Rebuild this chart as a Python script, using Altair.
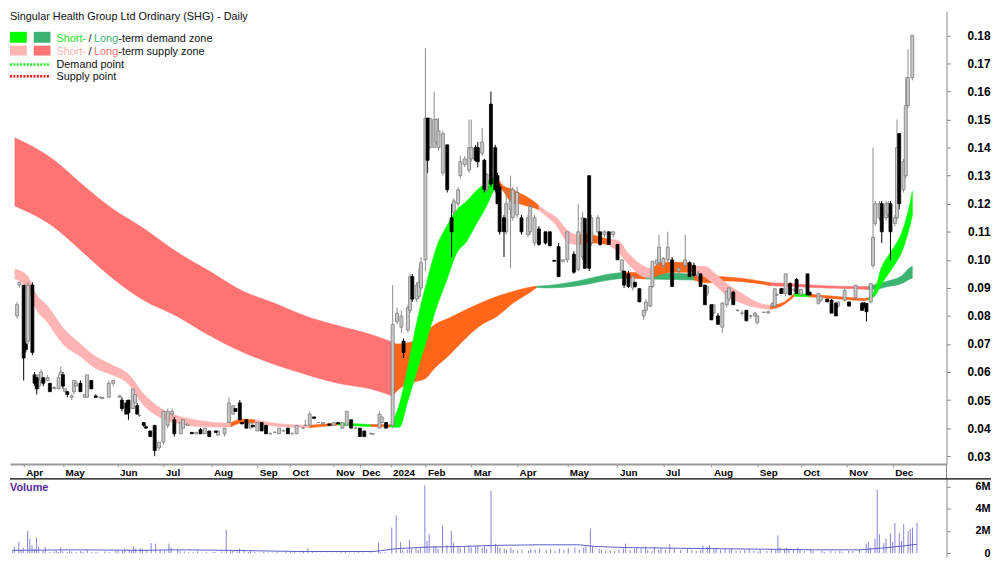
import altair as alt
import pandas as pd

FONT = "Liberation Sans, Arial, sans-serif"

# ---------------- price candles (trading-day index) ----------------
DAY = [1, 2, 4, 5, 6, 8, 9, 10, 11, 12,
       13, 15, 16, 18, 20, 21, 22, 23, 24, 26,
       27, 28, 30, 32, 33, 35, 37, 39, 40, 43,
       45, 48, 49, 51, 52, 54, 55, 56, 57, 59,
       60, 62, 64, 66, 68, 70, 72, 73, 76, 77,
       79, 81, 83, 85, 87, 89, 92, 93, 96, 98,
       100, 101, 103, 104, 106, 108, 109, 111, 113, 115,
       117, 119, 121, 123, 125, 127, 129, 132, 133, 135,
       137, 139, 141, 144, 146, 148, 150, 152, 154, 156,
       158, 160, 163, 164, 167, 168, 170, 173, 175, 177,
       178, 180, 181, 182, 184, 185, 186, 188, 189, 190,
       192, 193, 194, 196, 198, 200, 201, 203, 204, 206,
       208, 209, 211, 212, 214, 215, 216, 218, 220, 221,
       222, 224, 225, 227, 228, 230, 232, 235, 236, 238,
       240, 243, 245, 247, 249, 251, 253, 256, 258, 260,
       261, 263, 264, 267, 268, 270, 272, 274, 276, 278,
       279, 281, 283, 284, 286, 288, 289, 291, 292, 294,
       295, 297, 299, 301, 304, 307, 309, 311, 313, 314,
       316, 317, 319, 320, 322, 324, 326, 327, 329, 331,
       333, 335, 337, 339, 340, 343, 345, 347, 348, 349,
       351, 352, 353, 355, 357, 358, 360, 363, 364, 368,
       369, 372, 374, 376, 377, 380, 382, 385, 388, 389,
       390, 392, 393, 394, 396, 397, 399, 400, 401, 403,
       404, 405, 407, 408, 409, 411]

OPEN = [.080, .091, .091, .070, .071, .091, .059, .058, .055, .057,
        .058, .057, .056, .054, .054, .059, .059, .053, .053, .051,
        .053, .055, .056, .051, .051, .057, .0515, .051, .0505, .051,
        .056, .051, .050, .049, .050, .047, .049, .048, .0445, .042,
        .0405, .039, .041, .033, .035, .041, .045, .043, .038, .040,
        .041, .0385, .038, .0395, .038, .039, .039, .0375, .038, .042,
        .045, .047, .049, .042, .043, .040, .041, .039, .042, .041,
        .038, .0385, .038, .039, .040, .038, .038, .040, .041, .041,
        .044, .042, .0415, .0415, .041, .042, .040, .041, .043, .040,
        .040, .039, .038, .038, .040, .042, .042, .041, .078, .076,
        .071, .075, .082, .094, .086, .087, .090, .100, .1505, .140,
        .140, .142, .140, .131, .141, .115, .117, .120, .130, .134,
        .132, .136, .140, .140, .138, .1355, .125, .1555, .140, .130,
        .126, .115, .110, .118, .115, .116, .115, .109, .110, .106,
        .111, .110, .110, .0998, .1047, .0995, .100, .102, .0965, .101,
        .1147, .130, .106, .110, .110, .109, .110, .109, .1055, .096,
        .096, .095, .090, .092, .0897, .080, .082, .0835, .0905, .0985,
        .099, .098, .100, .100, .096, .098, .099, .098, .094, .095,
        .091, .088, .084, .081, .080, .076, .084, .086, .0885, .082,
        .081, .082, .080, .080, .0776, .0813, .081, .0835, .0835, .0875,
        .0897, .0885, .088, .0915, .089, .093, .0875, .095, .0885, .0845,
        .0855, .086, .0856, .0845, .0835, .0856, .085, .0865, .0845, .0845,
        .0845, .085, .098, .113, .115, .120, .115, .116, .120, .113,
        .115, .145, .125, .130, .155, .165]

HIGH = [.085, .092, .091, .071, .092, .092, .060, .058, .059, .061,
        .058, .059, .056, .055, .059, .062, .060, .054, .053, .052,
        .057, .057, .057, .052, .059, .057, .052, .051, .051, .057,
        .057, .052, .051, .050, .050, .054, .052, .049, .045, .042,
        .041, .039, .041, .035, .046, .047, .047, .044, .042, .043,
        .0415, .0385, .0385, .040, .040, .039, .039, .039, .040, .051,
        .048, .047, .050, .042, .043, .042, .041, .042, .042, .041,
        .0385, .039, .040, .0395, .040, .0385, .041, .0405, .043, .046,
        .044, .042, .042, .0415, .042, .042, .042, .046, .043, .0405,
        .040, .039, .0385, .038, .046, .044, .042, .091, .083, .082,
        .072, .084, .095, .095, .092, .097, .101, .1755, .1505, .1505,
        .160, .1505, .1505, .146, .141, .120, .122, .126, .137, .137,
        .150, .150, .141, .142, .147, .136, .131, .160, .141, .131,
        .127, .116, .125, .130, .126, .126, .116, .116, .120, .116,
        .112, .110, .110, .100, .106, .100, .110, .103, .120, .117,
        .115, .130, .116, .116, .110, .1105, .110, .110, .1055, .100,
        .096, .096, .094, .092, .090, .082, .086, .0905, .0995, .100,
        .109, .101, .110, .101, .098, .109, .0995, .099, .096, .095,
        .091, .0905, .084, .084, .081, .085, .089, .090, .089, .0825,
        .082, .082, .0805, .0815, .080, .0815, .082, .085, .0897, .088,
        .090, .090, .095, .092, .090, .0935, .0895, .095, .0885, .088,
        .087, .086, .086, .085, .085, .090, .085, .091, .085, .085,
        .0845, .0915, .140, .121, .121, .121, .121, .121, .121, .116,
        .150, .145, .136, .165, .175, .180]

LOW = [.079, .090, .057, .067, .070, .066, .055, .052, .054, .056,
       .055, .057, .053, .054, .054, .059, .054, .053, .051, .050,
       .052, .055, .053, .051, .051, .054, .051, .0505, .0505, .051,
       .055, .051, .046, .045, .043, .047, .049, .045, .044, .0405,
       .040, .037, .030, .032, .034, .040, .044, .037, .038, .040,
       .041, .038, .038, .038, .038, .037, .0385, .0375, .037, .042,
       .045, .046, .043, .0415, .040, .040, .0405, .039, .039, .038,
       .038, .0385, .038, .039, .038, .038, .038, .040, .041, .041,
       .0435, .042, .0415, .041, .041, .0415, .040, .041, .040, .040,
       .037, .037, .038, .0375, .040, .042, .040, .040, .077, .074,
       .065, .074, .081, .085, .085, .086, .089, .096, .131, .1395,
       .140, .141, .139, .130, .124, .101, .116, .119, .129, .133,
       .131, .135, .135, .133, .137, .124, .124, .126, .124, .120,
       .109, .101, .109, .097, .114, .115, .109, .108, .109, .105,
       .105, .1055, .105, .0995, .094, .099, .099, .095, .096, .100,
       .097, .096, .105, .109, .105, .108, .1055, .108, .100, .095,
       .090, .090, .089, .090, .085, .0786, .081, .083, .090, .098,
       .098, .097, .099, .0905, .095, .097, .094, .094, .093, .0905,
       .084, .087, .0786, .080, .077, .074, .083, .085, .084, .0815,
       .080, .078, .079, .0795, .077, .081, .081, .083, .083, .087,
       .088, .088, .087, .0875, .0885, .088, .087, .0875, .0875, .084,
       .085, .085, .081, .080, .083, .085, .0835, .086, .082, .083,
       .078, .0845, .097, .112, .114, .106, .114, .115, .100, .112,
       .114, .118, .124, .129, .154, .164]

CLOSE = [.084, .092, .065, .068, .091, .067, .056, .054, .059, .060,
         .056, .058, .053, .0545, .058, .060, .055, .054, .052, .0515,
         .057, .056, .053, .052, .059, .054, .051, .051, .051, .056,
         .057, .0515, .047, .045, .0455, .054, .052, .045, .0445, .041,
         .040, .037, .032, .035, .046, .046, .046, .038, .042, .043,
         .0415, .038, .0385, .038, .040, .037, .0385, .039, .040, .049,
         .048, .046, .043, .0415, .040, .042, .0405, .042, .039, .038,
         .038, .0385, .040, .039, .038, .038, .041, .040, .041, .045,
         .0435, .042, .042, .041, .042, .0415, .042, .046, .040, .040,
         .037, .037, .038, .038, .045, .044, .040, .077, .081, .080,
         .067, .083, .094, .086, .091, .092, .099, .1505, .1355, .1505,
         .150, .150, .146, .145, .125, .110, .121, .125, .135, .136,
         .140, .140, .1355, .135, .142, .125, .1305, .127, .125, .120,
         .110, .110, .120, .121, .125, .124, .110, .115, .119, .115,
         .1055, .106, .105, .0995, .094, .100, .110, .0956, .110, .115,
         .097, .097, .115, .115, .1055, .110, .1055, .110, .100, .100,
         .091, .0905, .094, .0905, .085, .082, .085, .0905, .0995, .100,
         .1045, .1005, .1045, .0905, .097, .100, .094, .0945, .095, .0905,
         .084, .0905, .0786, .084, .077, .0845, .0887, .090, .084, .082,
         .081, .0783, .080, .081, .080, .0813, .0815, .0845, .0897, .0875,
         .088, .0895, .095, .0875, .0895, .088, .0895, .0875, .0875, .088,
         .087, .085, .081, .080, .085, .089, .0835, .091, .082, .083,
         .0815, .0915, .108, .120, .120, .110, .120, .120, .110, .115,
         .140, .120, .135, .155, .165, .180]

# volume, millions of shares
VOLUME_M = [.2, .6, 1.0, .3, .5, 2.0, 1.3, .7, .4, 1.4,
            .6, .2, .55, .1, .15, .2, .1, .5, .15, .1,
            .2, .15, .1, .2, .1, .3, .1, .1, .05, .15,
            .1, .2, .25, .2, .4, .3, .2, .6, .4, .45,
            .4, .3, .9, .85, .3, .2, .85, .5, .3, .2,
            .15, .1, .1, .15, .05, .1, .1, .1, .15, 2.1,
            .3, .2, .15, .4, .2, .1, .2, .1, .05, .1,
            .05, .05, .1, .05, .1, .1, .15, .05, .2, .45,
            .15, .05, .05, .05, .05, .05, .1, .2, .05, .05,
            .1, .05, .05, .05, .95, .1, .1, 2.3, 3.4, 1.0,
            .3, .3, 1.2, .4, .5, .3, .5, 6.1, 1.1, 1.7,
            .6, .65, .4, 2.5, .7, 2.0, .9, .6, .5, .6,
            .7, .5, .6, .7, .5, .6, .4, 5.6, .85, .6,
            .5, .4, .3, .5, .3, .2, .3, .2, .35, .3,
            .4, .3, .35, .2, .4, .3, .45, .5, .3, .5,
            .6, 2.2, .6, .4, .3, .2, .25, .2, .3, .4,
            .85, .3, .4, .5, .4, .6, .3, .2, .6, .3,
            .4, .3, .8, .4, .3, .4, .3, .2, .3, .7,
            .6, .7, .4, .5, .3, .4, .3, .4, .2, .2,
            .3, .4, .2, .15, .3, .2, .4, .3, 1.6, .5,
            .4, .5, .4, .3, .5, .3, .2, .3, .2, .2,
            .1, .2, .15, .2, .15, .2, .2, .3, .85, 1.0,
            .5, 1.3, 5.7, 1.7, .9, 1.3, 1.8, 1.0, 2.7, 1.8,
            1.1, 2.6, 2.0, 2.2, 2.3, 2.7]

# volume moving average
VOL_MA_DAY = [1, 30, 60, 75, 100, 130, 165, 175, 190, 205, 220, 240, 258,
              265, 280, 300, 320, 345, 365, 385, 395, 405, 411]
VOL_MA = [.25, .3, .25, .3, .25, .15, .15, .4, .55, .6, .7, .75, .75,
          .6, .5, .45, .4, .35, .3, .3, .45, .65, .8]

# ---------------- zones: (day, upper, lower) ----------------
LT_SUPPLY_A = [(0, .1435, .1192), (18, .1355, .1116), (30, .1274, .1035), (44, .1186, .0939),
               (59, .1112, .0856), (74, .1029, .0800), (89, .0960, .0731), (104, .0890, .0672),
               (119, .0845, .0627), (133, .0800, .0592), (148, .0765, .0560), (163, .0734, .0540),
               (173, .0706, .0515)]
LT_MIXED_A = [(173, .0706, .0515), (175, .0700, .0533), (184, .0713, .0567), (188, .0740, .0577),
              (192, .0768, .0612), (199, .0793, .0661), (206, .0820, .0717), (213, .0845, .0765),
              (221, .0870, .0800), (228, .0887, .0845), (237, .0904, .0890), (239, .0906, .0902)]
LT_DEMAND_A = [(239, .0906, .0902), (243, .0908, .0900), (258, .0925, .0908), (272, .0949, .0928),
               (279, .0956, .0935)]
LT_MIXED_B = [(279, .0956, .0935), (289, .0953, .0932)]
LT_DEMAND_B = [(289, .0953, .0932), (300, .0952, .0930), (311, .0949, .0928)]
LT_MIXED_C = [(311, .0949, .0928), (317, .0942, .0918), (326, .0939, .0925), (341, .0925, .0915),
              (346, .0918, .0908)]
LT_SUPPLY_B = [(346, .0918, .0908), (356, .0915, .0905), (370, .0908, .0900), (385, .0905, .0897),
               (391, .0905, .0894)]
LT_DEMAND_C = [(391, .0905, .0894), (394, .0912, .0895), (400, .0925, .0905), (406, .0942, .0915),
               (410, .0973, .0932), (411, .0977, .0935)]

ST_SUPPLY_A = [(0, .0967, .0932), (6, .0940, .0897), (9, .0887, .0835), (15, .0835, .0776),
               (22, .0758, .0700), (30, .0700, .0655), (37, .0655, .0613), (44, .0627, .0592),
               (52, .0592, .0557), (59, .0522, .0481), (67, .0470, .0436), (74, .0445, .0418),
               (81, .0432, .0408), (89, .0422, .0405), (96, .0418, .0404), (99, .0420, .0405)]
ST_MIXED_A = [(99, .0420, .0405), (104, .0432, .0418), (110, .0430, .0418)]
ST_SUPPLY_B = [(110, .0430, .0418), (122, .0415, .0405), (135, .0410, .0402)]
ST_MIXED_B = [(135, .0410, .0402), (148, .0418, .0411)]
ST_DEMAND_A = [(148, .0418, .0411), (163, .0413, .0406)]
ST_MIXED_C = [(163, .0413, .0406), (172, .0412, .0404)]
ST_DEMAND_B = [(172, .0412, .0404), (176, .0483, .0403), (180, .0620, .0498), (184, .0776, .0600),
               (189, .0932, .0724), (193, .1043, .0828), (198, .1123, .0932), (202, .1175, .1019),
               (207, .1210, .1067), (211, .1244, .1123), (216, .1276, .1192), (219, .1293, .1244),
               (221, .1290, .1279)]
ST_MIXED_D = [(221, .1290, .1279), (224, .1262, .1241), (228, .1251, .1203), (231, .1238, .1200),
              (234, .1227, .1193), (238, .1206, .1185), (240, .1193, .1178)]
ST_SUPPLY_C = [(240, .1193, .1178), (243, .1175, .1158), (248, .1151, .1123), (253, .1105, .1064),
               (258, .1088, .1053)]
ST_MIXED_E = [(258, .1088, .1053), (262, .1095, .1060), (265, .1088, .1060), (269, .1080, .1057),
              (272, .1073, .1053)]
ST_SUPPLY_D = [(272, .1073, .1053), (276, .1070, .1030), (281, .1022, .0984), (288, .0977, .0939),
               (292, .0967, .0935)]
ST_MIXED_F = [(292, .0967, .0935), (296, .0991, .0949), (302, .0991, .0956), (307, .0991, .0956),
              (311, .0977, .0956)]
ST_SUPPLY_E = [(311, .0977, .0956), (316, .0977, .0939), (320, .0956, .0915), (326, .0915, .0873),
               (333, .0880, .0845), (341, .0845, .0828), (346, .0838, .0824)]
ST_MIXED_G = [(346, .0838, .0824), (351, .0845, .0835), (357, .0880, .0870)]
ST_DEMAND_C = [(357, .0880, .0870), (364, .0877, .0868)]
ST_MIXED_H = [(364, .0877, .0868), (378, .0868, .0860), (389, .0862, .0855), (391, .0865, .0858)]
ST_DEMAND_D = [(391, .0865, .0858), (394, .0897, .0873), (397, .0975, .0915), (400, .1015, .0949),
               (403, .1050, .0984), (406, .1095, .1025), (409, .1170, .1095), (411, .1244, .1158)]

LT_ZONES = [("lt_supply", LT_SUPPLY_A), ("mixed", LT_MIXED_A), ("lt_demand", LT_DEMAND_A),
            ("mixed", LT_MIXED_B), ("lt_demand", LT_DEMAND_B), ("mixed", LT_MIXED_C),
            ("lt_supply", LT_SUPPLY_B), ("lt_demand", LT_DEMAND_C)]
ST_ZONES = [("st_supply", ST_SUPPLY_A), ("mixed", ST_MIXED_A), ("st_supply", ST_SUPPLY_B),
            ("mixed", ST_MIXED_B), ("st_demand", ST_DEMAND_A), ("mixed", ST_MIXED_C),
            ("st_demand", ST_DEMAND_B), ("mixed", ST_MIXED_D), ("st_supply", ST_SUPPLY_C),
            ("mixed", ST_MIXED_E), ("st_supply", ST_SUPPLY_D), ("mixed", ST_MIXED_F),
            ("st_supply", ST_SUPPLY_E), ("mixed", ST_MIXED_G), ("st_demand", ST_DEMAND_C),
            ("mixed", ST_MIXED_H), ("st_demand", ST_DEMAND_D)]

ZONE_NAMES = ["st_demand", "lt_demand", "st_supply", "lt_supply", "mixed"]
ZONE_COLORS = ["#00ff00", "#3cb371", "#ffb3b3", "#ff7373", "#ff661a"]

MONTH_DAYS = [4, 22, 47, 68, 90, 111, 126, 146, 158, 172, 188, 209, 230, 253, 276, 297, 319, 340, 360, 381, 402]
MONTH_NAMES = ["Apr", "May", "Jun", "Jul", "Aug", "Sep", "Oct", "Nov", "Dec", "2024", "Feb", "Mar",
               "Apr", "May", "Jun", "Jul", "Aug", "Sep", "Oct", "Nov", "Dec"]
PRICE_TICKS = [0.03, 0.04, 0.05, 0.06, 0.07, 0.08, 0.09, 0.10, 0.11, 0.12, 0.13, 0.14, 0.15, 0.16, 0.17, 0.18]
VOL_TICKS = [0, 2, 4, 6]

TITLE = "Singular Health Group Ltd Ordinary (SHG) - Daily"

# ---------------- frames ----------------
assert len(DAY) == len(OPEN) == len(HIGH) == len(LOW) == len(CLOSE) == len(VOLUME_M)
candles = pd.DataFrame({"day": DAY, "open": OPEN, "high": HIGH, "low": LOW, "close": CLOSE, "vol": VOLUME_M})
candles["dir"] = ["up" if c >= o else "down" for o, c in zip(OPEN, CLOSE)]
vol_ma = pd.DataFrame({"day": VOL_MA_DAY, "ma": VOL_MA})


def zone_frame(zones):
    rows = []
    for i, (zone, pts) in enumerate(zones):
        for d, t, b in pts:
            rows.append({"seg": i, "zone": zone, "day": d, "top": t, "bot": b})
    return pd.DataFrame(rows)


lt_df = zone_frame(LT_ZONES)
st_df = zone_frame(ST_ZONES)

W, H_PRICE, H_VOL = 947, 458, 79
X_DOMAIN = [0, 424.4]
xs = alt.Scale(domain=X_DOMAIN, nice=False, zero=False)
ys = alt.Scale(domain=[0.027222, 0.188681], nice=False, zero=False)
vs = alt.Scale(domain=[-0.343, 6.686], nice=False, zero=False)
zone_scale = alt.Scale(domain=ZONE_NAMES, range=ZONE_COLORS)

label_expr = ("[" + ",".join("'%s'" % n for n in MONTH_NAMES) + "][indexof(["
              + ",".join(str(d) for d in MONTH_DAYS) + "], datum.value)]")

x_axis = alt.Axis(values=MONTH_DAYS, labelExpr=label_expr, grid=False, title=None,
                  domainColor="#9a9a9a", domainWidth=2, tickColor="#9a9a9a", tickSize=3,
                  labelAlign="left", labelOffset=2, labelPadding=1, labelBaseline="top",
                  labelFont=FONT, labelFontSize=10, labelFontWeight="bold", labelColor="#000",
                  labelOverlap=False, labelFlush=False)
y_axis = alt.Axis(orient="right", values=PRICE_TICKS, format=".2f", grid=False, title=None,
                  domainColor="#8a8a8a", tickColor="#8a8a8a", tickSize=4,
                  labelAlign="right", labelPadding=40, labelBaseline="middle",
                  labelFont=FONT, labelFontSize=12, labelFontWeight="bold", labelColor="#000",
                  labelOverlap=False, labelFlush=False)
v_axis = alt.Axis(orient="right", values=VOL_TICKS, grid=False, title=None,
                  labelExpr="datum.value == 0 ? '0' : datum.value + 'M'",
                  domainColor="#8a8a8a", tickColor="#8a8a8a", tickSize=4,
                  labelAlign="right", labelPadding=40, labelBaseline="middle",
                  labelFont=FONT, labelFontSize=11, labelFontWeight="bold", labelColor="#000",
                  labelOverlap=False, labelFlush=False)

X = alt.X("day:Q", scale=xs, axis=x_axis)


def zone_layer(df):
    return alt.Chart(df).mark_area(interpolate="monotone", strokeWidth=0.6).encode(
        x=X,
        y=alt.Y("top:Q", scale=ys, axis=y_axis, stack=None),
        y2="bot:Q",
        fill=alt.Fill("zone:N", scale=zone_scale, legend=None),
        stroke=alt.Stroke("zone:N", scale=zone_scale, legend=None),
        detail="seg:N",
    )


def wick_layer(direction, color):
    return alt.Chart(candles).transform_filter(alt.datum.dir == direction).mark_rule(
        strokeWidth=1, color=color).encode(
        x=X, y=alt.Y("low:Q", scale=ys, axis=y_axis, stack=None), y2="high:Q")


def body_layer(direction, fill, stroke):
    return alt.Chart(candles).transform_filter(alt.datum.dir == direction).mark_bar(
        size=3, strokeWidth=0.8, fill=fill, stroke=stroke).encode(
        x=X, y=alt.Y("open:Q", scale=ys, axis=y_axis, stack=None), y2="close:Q")


one = pd.DataFrame({"k": [0]})


def txt(s, x, y, color, size=11, weight="normal", baseline="alphabetic"):
    return alt.Chart(one).mark_text(text=s, align="left", baseline=baseline, font=FONT,
                                    fontSize=size, fontWeight=weight, color=color).encode(
        x=alt.value(x), y=alt.value(y))


def box(x1, x2, y1, y2, color):
    return alt.Chart(one).mark_rect(color=color).encode(
        x=alt.value(x1), x2=alt.value(x2), y=alt.value(y1), y2=alt.value(y2))


def dots(y, color):
    return alt.Chart(one).mark_rule(color=color, strokeWidth=2.5, strokeDash=[2, 1.4]).encode(
        x=alt.value(0), x2=alt.value(41), y=alt.value(y))


legend_layers = [
    txt(TITLE, 0, 0, "#111111", baseline="top"),
    box(0, 17, 21, 32, ZONE_COLORS[0]), box(24, 41, 21, 32, ZONE_COLORS[1]),
    box(0, 17, 35, 45, ZONE_COLORS[2]), box(24, 41, 35, 45, ZONE_COLORS[3]),
    txt("Short-", 47, 31, "#22dd22"), txt("/", 79.5, 31, "#111111"),
    txt("Long", 85, 31, "#3cb371"), txt("-term demand zone", 109.5, 31, "#111111"),
    txt("Short-", 47, 44, "#ffb3b3"), txt("/", 79.5, 44, "#111111"),
    txt("Long", 85, 44, "#ff7070"), txt("-term supply zone", 109.5, 44, "#111111"),
    dots(54, "#22ee22"), txt("Demand point", 47, 58, "#111111"),
    dots(66, "#ee1111"), txt("Supply point", 47, 70, "#111111"),
]

band_gap_rule = alt.Chart(one).mark_rule(color="#8a8a8a").encode(
    x=alt.value(W), y=alt.value(H_PRICE), y2=alt.value(H_PRICE + 15))

price = alt.layer(zone_layer(lt_df), zone_layer(st_df),
                  wick_layer("up", "#8c8c8c"), wick_layer("down", "#000000"),
                  body_layer("up", "#c8c8c8", "#7c7c7c"), body_layer("down", "#000000", "#000000"),
                  band_gap_rule, *legend_layers).properties(width=W, height=H_PRICE)

XV = alt.X("day:Q", scale=xs, axis=None)
vol_bars = alt.Chart(candles).mark_rule(strokeWidth=1, color="#8484d8").encode(
    x=XV, y=alt.Y("vol:Q", scale=vs, axis=v_axis), y2=alt.datum(0))
vol_line = alt.Chart(vol_ma).mark_line(strokeWidth=1, color="#5c5cc4").encode(
    x=XV, y=alt.Y("ma:Q", scale=vs, axis=v_axis))
top_line = alt.Chart(one).mark_rule(color="#000000", strokeWidth=1.2).encode(
    x=alt.value(0), x2=alt.value(992), y=alt.value(0))
vol_label = txt("Volume", 0, 12, "#5b2a9a", size=11, weight="bold")

volume = alt.layer(vol_bars, vol_line, top_line, vol_label).properties(width=W, height=H_VOL)

chart = alt.vconcat(price, volume, spacing=15, bounds="flush").properties(
    padding=0, background="white"
).configure_view(stroke=None)

chart.save("out.html", embed_options={"renderer": "svg", "actions": False})
